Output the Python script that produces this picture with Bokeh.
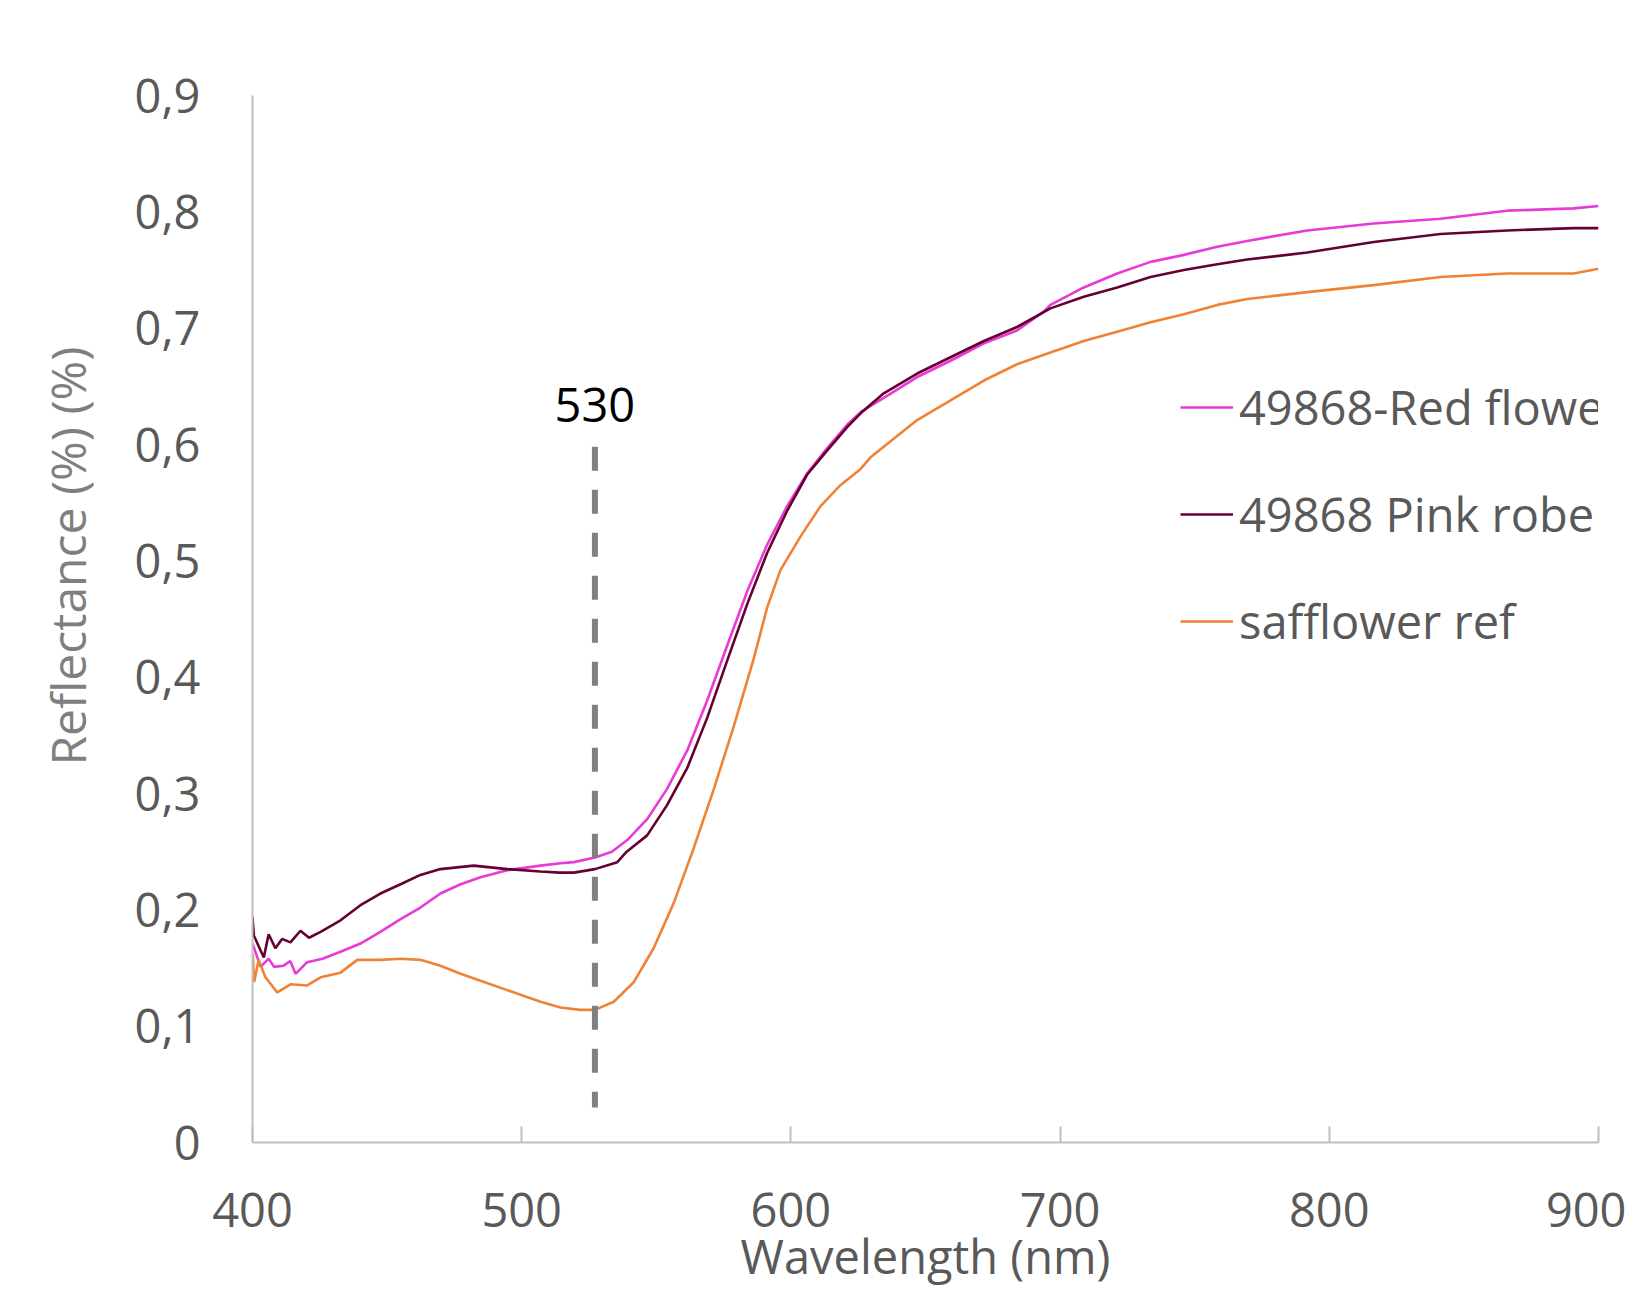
import math
from bokeh.plotting import figure
from bokeh.models import Range1d, FixedTicker, Legend, LegendItem, Label, Title
from bokeh.embed import file_html
from bokeh.resources import INLINE

# ---------------- data ----------------
red_nm = [400.0, 403.0, 406.0, 408.0, 411.6, 414.0, 416.0, 420.3, 426.0, 432.7, 440.1, 447.5,
          455.0, 462.4, 469.8, 477.3, 484.7, 494.6, 507.0, 514.4, 519.4, 527.2, 533.5, 539.2,
          546.6, 554.0, 561.5, 568.9, 576.3, 583.8, 591.2, 598.6, 606.0, 613.5, 620.9, 626.0,
          634.5, 646.9, 659.3, 671.7, 684.0, 693.8, 696.4, 708.8, 721.2, 733.6, 746.0, 758.4,
          769.5, 791.8, 816.5, 841.3, 866.1, 890.8, 900.0]
red_val = [0.171, 0.151, 0.158, 0.151, 0.152, 0.156, 0.145, 0.155, 0.158, 0.164, 0.171, 0.181,
           0.192, 0.202, 0.214, 0.222, 0.228, 0.234, 0.238, 0.240, 0.241, 0.245, 0.250, 0.260,
           0.278, 0.304, 0.337, 0.380, 0.427, 0.474, 0.514, 0.547, 0.575, 0.597, 0.617, 0.628,
           0.640, 0.658, 0.672, 0.687, 0.698, 0.714, 0.720, 0.735, 0.747, 0.757, 0.763, 0.770,
           0.775, 0.784, 0.790, 0.794, 0.801, 0.803, 0.805]

pink_nm = [400.0, 400.5, 404.2, 406.0, 408.5, 411.0, 414.1, 417.8, 421.0, 425.3, 432.7, 440.1,
           447.5, 455.0, 462.4, 469.8, 482.2, 494.6, 507.0, 514.0, 519.4, 527.2, 535.5, 539.0,
           546.6, 554.0, 561.5, 568.9, 576.3, 583.8, 591.2, 598.6, 606.0, 613.5, 620.9, 626.0,
           634.5, 646.9, 659.3, 671.7, 684.0, 696.4, 708.8, 721.2, 733.6, 746.0, 758.4, 769.5,
           791.8, 816.5, 841.3, 866.1, 890.8, 900.0]
pink_val = [0.194, 0.178, 0.159, 0.179, 0.167, 0.175, 0.172, 0.182, 0.176, 0.181, 0.191, 0.204,
            0.214, 0.222, 0.230, 0.235, 0.238, 0.235, 0.233, 0.232, 0.232, 0.235, 0.241, 0.250,
            0.264, 0.290, 0.322, 0.365, 0.414, 0.463, 0.507, 0.543, 0.574, 0.595, 0.615, 0.627,
            0.644, 0.661, 0.675, 0.689, 0.701, 0.717, 0.727, 0.735, 0.744, 0.750, 0.755, 0.759,
            0.765, 0.774, 0.781, 0.784, 0.786, 0.786]

saff_nm = [400.1, 400.6, 402.3, 404.8, 409.2, 414.1, 420.3, 425.3, 432.7, 438.9, 447.5, 455.0,
           462.4, 469.8, 477.3, 484.7, 494.6, 507.0, 514.4, 521.8, 527.2, 534.2, 541.7, 549.0,
           556.5, 563.9, 571.4, 578.8, 586.2, 591.2, 596.1, 603.6, 611.0, 618.4, 625.9, 629.6,
           646.9, 659.3, 671.7, 684.0, 696.4, 708.8, 721.2, 733.6, 746.0, 758.4, 769.5, 791.8,
           816.5, 841.3, 866.1, 890.8, 900.0]
saff_val = [0.162, 0.138, 0.157, 0.142, 0.129, 0.136, 0.135, 0.142, 0.146, 0.157, 0.157, 0.158,
            0.157, 0.152, 0.145, 0.139, 0.131, 0.121, 0.116, 0.114, 0.114, 0.121, 0.138, 0.167,
            0.206, 0.253, 0.304, 0.358, 0.416, 0.460, 0.492, 0.521, 0.547, 0.565, 0.579, 0.589,
            0.621, 0.638, 0.655, 0.669, 0.679, 0.689, 0.697, 0.705, 0.712, 0.720, 0.725, 0.731,
            0.737, 0.744, 0.747, 0.747, 0.751]

series_names = ["49868-Red flower", "49868 Pink robe", "safflower ref"]
series_colors = ["#E83AD6", "#650033", "#F08236"]

x_ticks = [400, 500, 600, 700, 800, 900]
y_ticks = [0, 0.1, 0.2, 0.3, 0.4, 0.5, 0.6, 0.7, 0.8, 0.9]
y_tick_labels = ["0", "0,1", "0,2", "0,3", "0,4", "0,5", "0,6", "0,7", "0,8", "0,9"]

marker_nm = 527.2
marker_text = "530"
marker_y = [0.598, 0.030]
marker_label_y = 0.634

x_title = "Wavelength (nm)"
y_title = "Reflectance (%) (%)"

FONT = "Open Sans"
TXT = "#595959"

# ---------------- figure ----------------
p = figure(width=1626, height=1291, output_backend="svg", toolbar_location=None,
           x_range=Range1d(400, 900), y_range=Range1d(0, 0.9),
           min_border_left=252, min_border_right=28, min_border_top=95, min_border_bottom=149)
p.outline_line_color = None
p.grid.visible = False
p.background_fill_color = "white"
p.border_fill_color = "white"

renderers = []
for nm, val, c in zip([red_nm, pink_nm, saff_nm], [red_val, pink_val, saff_val], series_colors):
    r = p.line(nm, val, line_color=c, line_width=2.6)
    renderers.append(r)

# dashed marker
p.segment(x0=[marker_nm], y0=[marker_y[0]], x1=[marker_nm], y1=[marker_y[1]],
          line_color="#808080", line_width=6, line_dash="24 19")
p.add_layout(Label(x=marker_nm, y=marker_label_y, text=marker_text, text_align="center",
                   text_baseline="middle", text_font=FONT, text_font_size="47px",
                   text_color="black"))

# axes
xa = p.xaxis[0]
xa.ticker = FixedTicker(ticks=x_ticks)
xa.axis_line_color = "#BFBFBF"
xa.axis_line_width = 2
xa.major_tick_line_color = "#BFBFBF"
xa.major_tick_line_width = 2
xa.major_tick_in = 16
xa.major_tick_out = 0
xa.minor_tick_line_color = None
xa.major_label_text_font = FONT
xa.major_label_text_font_size = "47px"
xa.major_label_text_color = TXT
xa.major_label_standoff = 50
xa.axis_label = x_title
xa.axis_label_text_font = FONT
xa.axis_label_text_font_size = "47px"
xa.axis_label_text_font_style = "normal"
xa.axis_label_text_color = TXT
xa.axis_label_standoff = -6

ya = p.yaxis[0]
ya.ticker = FixedTicker(ticks=y_ticks)
ya.major_label_overrides = {t: l for t, l in zip(y_ticks, y_tick_labels)}
ya.axis_line_color = "#BFBFBF"
ya.axis_line_width = 2
ya.major_tick_line_color = None
ya.major_tick_in = 0
ya.major_tick_out = 0
ya.minor_tick_line_color = None
ya.major_label_text_font = FONT
ya.major_label_text_font_size = "47px"
ya.major_label_text_color = TXT
ya.major_label_standoff = 52

# y title as a left-side title, shifted up like the reference
p.add_layout(Title(text=y_title, align="left", offset=377, text_font=FONT,
                   text_font_size="48px", text_font_style="normal", text_color="#7F7F7F",
                   standoff=63), "left")

legend = Legend(items=[LegendItem(label=n, renderers=[r]) for n, r in zip(series_names, renderers)],
                location=(928, 489), glyph_width=53, glyph_height=64, label_height=64,
                label_standoff=6, spacing=43, padding=0, margin=0,
                label_text_font=FONT, label_text_font_size="47px", label_text_color=TXT,
                border_line_color=None, background_fill_alpha=0)
p.add_layout(legend)

open("out.html", "w").write(file_html(p, INLINE))
